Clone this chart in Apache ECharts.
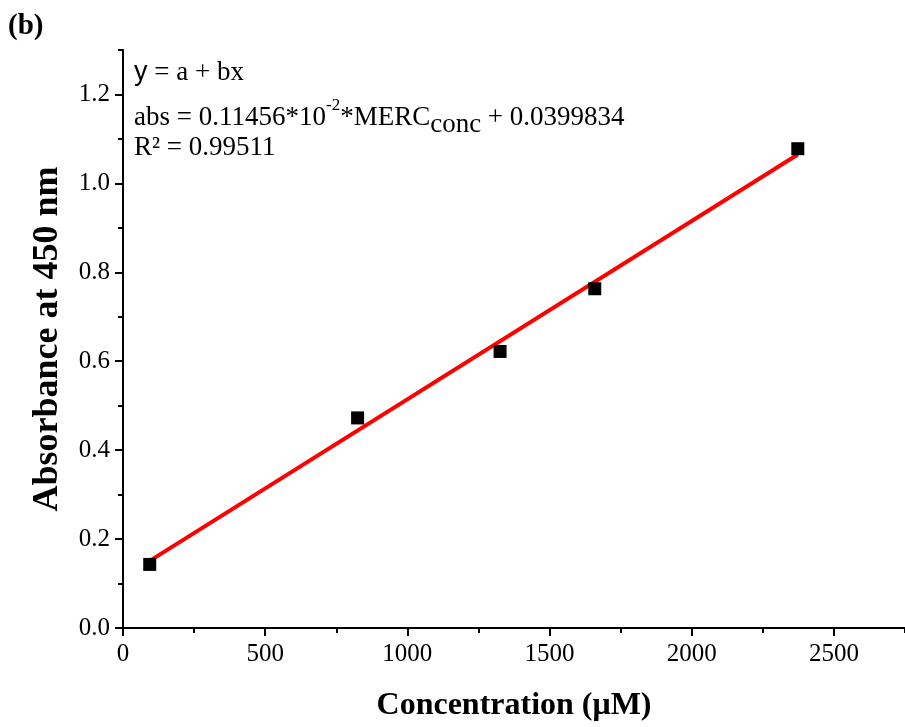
<!DOCTYPE html>
<html>
<head>
<meta charset="utf-8">
<script src="https://cdn.jsdelivr.net/npm/echarts@6/dist/echarts.min.js"></script>
<style>html,body{margin:0;padding:0;background:#fff}#c{width:905px;height:727px}</style>
</head>
<body>
<div id="c"></div>
<script>
// Data
var concentration = [94, 825, 1326, 1659, 2373];
var absorbance = [0.143, 0.4725, 0.622, 0.763, 1.078];
var fitX = [94, 2373];
var fitY = [0.151, 1.065];
var xMajorTicks = [0, 500, 1000, 1500, 2000, 2500];
var xMinorTicks = [250, 750, 1250, 1750, 2250, 2750];
var yMajorTicks = [0, 0.2, 0.4, 0.6, 0.8, 1.0, 1.2];
var yMinorTicks = [0.1, 0.3, 0.5, 0.7, 0.9, 1.1, 1.3];

var FONT = '"Liberation Serif", "Times New Roman", serif';
var chart = echarts.init(document.getElementById('c'), null, {renderer: 'canvas'});

function zip(a, b) { return a.map(function (v, i) { return [v, b[i]]; }); }

var common = {min: 0, type: 'value', splitLine: {show: false}};
chart.setOption({
  animation: false,
  backgroundColor: '#fff',
  grid: {left: 123, top: 50, bottom: 91, right: -6, containLabel: false},
  xAxis: [
    Object.assign({}, common, {
      max: 2750, position: 'bottom',
      axisLine: {show: true, onZero: false, lineStyle: {color: '#000', width: 2}},
      axisTick: {show: true, customValues: xMajorTicks, length: 8, lineStyle: {color: '#000', width: 2}},
      axisLabel: {customValues: xMajorTicks, color: '#000', fontFamily: FONT, fontSize: 25, margin: 14,
        formatter: function (v) { return String(v); }},
      name: 'Concentration (\u03bcM)', nameLocation: 'middle', nameGap: 62,
      nameTextStyle: {color: '#000', fontFamily: FONT, fontWeight: 'bold', fontSize: 32}
    }),
    Object.assign({}, common, {
      max: 2750, position: 'bottom',
      axisLine: {show: false},
      axisTick: {show: true, customValues: xMinorTicks, length: 5, lineStyle: {color: '#000', width: 2}},
      axisLabel: {show: false}
    })
  ],
  yAxis: [
    Object.assign({}, common, {
      max: 1.3, position: 'left',
      axisLine: {show: true, onZero: false, lineStyle: {color: '#000', width: 2}},
      axisTick: {show: true, customValues: yMajorTicks, length: 8, lineStyle: {color: '#000', width: 2}},
      axisLabel: {customValues: yMajorTicks, color: '#000', fontFamily: FONT, fontSize: 25, margin: 13,
        formatter: function (v) { return v.toFixed(1); }},
      name: 'Absorbance at 450 nm', nameLocation: 'middle', nameGap: 57,
      nameTextStyle: {color: '#000', fontFamily: FONT, fontWeight: 'bold', fontSize: 36}
    }),
    Object.assign({}, common, {
      max: 1.3, position: 'left',
      axisLine: {show: false},
      axisTick: {show: true, customValues: yMinorTicks, length: 5, lineStyle: {color: '#000', width: 2}},
      axisLabel: {show: false}
    })
  ],
  series: [
    {
      type: 'line', data: zip(fitX, fitY), xAxisIndex: 0, yAxisIndex: 0,
      symbol: 'none', lineStyle: {color: '#ff0000', width: 4}, z: 2
    },
    {
      type: 'scatter', data: zip(concentration, absorbance), xAxisIndex: 0, yAxisIndex: 0,
      symbol: 'rect', symbolSize: 13, itemStyle: {color: '#000', opacity: 1}, z: 3
    }
  ],
  graphic: [
    {type: 'text', left: 8, top: 12, style: {text: '(b)', font: 'bold 29px ' + FONT, fill: '#000'}},
    {type: 'text', left: 134, top: 59, style: {
      text: '{s|y} = a + bx', font: '27px ' + FONT, fill: '#000',
      rich: {s: {fontFamily: '"Liberation Sans", Arial, sans-serif', fontSize: 27}}
    }},
    {type: 'text', left: 134, top: 97, style: {
      text: 'abs = 0.11456*10{sup|-2}*MERC{sub|conc} + 0.0399834',
      font: '27px ' + FONT, fill: '#000',
      rich: {
        sup: {fontFamily: FONT, fontSize: 17, verticalAlign: 'top', padding: [0, 0, 12, 0]},
        sub: {fontFamily: FONT, fontSize: 27, verticalAlign: 'bottom', padding: [14, 0, 0, 0]}
      }
    }},
    {type: 'text', left: 134, top: 134, style: {text: 'R\u00b2 = 0.99511', font: '27px ' + FONT, fill: '#000'}}
  ]
});
</script>
</body>
</html>
